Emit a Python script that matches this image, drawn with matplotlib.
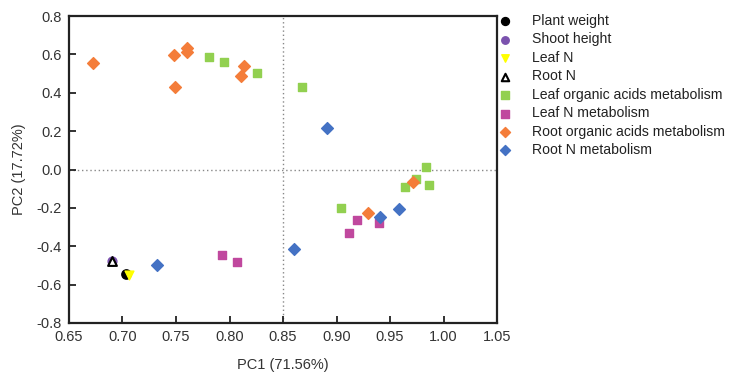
import matplotlib
matplotlib.use("Agg")
import matplotlib.pyplot as plt
from matplotlib.ticker import FormatStrFormatter

plt.rcParams['font.family'] = ['Liberation Sans', 'DejaVu Sans']

# Data (PC1, PC2)
plant_weight_x = [0.7036]
plant_weight_y = [-0.546]
shoot_height_x = [0.690]
shoot_height_y = [-0.475]
leaf_n_x = [0.706]
leaf_n_y = [-0.550]
root_n_x = [0.690]
root_n_y = [-0.475]
leaf_oa_x = [0.781, 0.795, 0.826, 0.868, 0.984, 0.974, 0.964, 0.986, 0.904]
leaf_oa_y = [0.586, 0.562, 0.501, 0.428, 0.015, -0.051, -0.090, -0.079, -0.201]
leaf_nm_x = [0.919, 0.940, 0.912, 0.793, 0.807]
leaf_nm_y = [-0.263, -0.279, -0.331, -0.447, -0.484]
root_oa_x = [0.672, 0.748, 0.749, 0.760, 0.760, 0.8136, 0.811, 0.971, 0.929]
root_oa_y = [0.557, 0.595, 0.428, 0.635, 0.611, 0.539, 0.487, -0.067, -0.228]
root_nm_x = [0.891, 0.958, 0.941, 0.860, 0.732]
root_nm_y = [0.216, -0.206, -0.249, -0.413, -0.498]

x_ticks = [0.65, 0.70, 0.75, 0.80, 0.85, 0.90, 0.95, 1.00, 1.05]
y_ticks = [-0.8, -0.6, -0.4, -0.2, 0.0, 0.2, 0.4, 0.6, 0.8]

fig = plt.figure(figsize=(7.33, 3.74), dpi=100)
ax = fig.add_axes([0.0941, 0.1364, 0.584, 0.8206])

ax.axvline(0.85, color='#888888', linestyle=(0, (1, 2)), linewidth=1.0, zorder=1)
ax.axhline(0.0, color='#888888', linestyle=(0, (1, 2)), linewidth=1.0, zorder=1)

ms = 40
h1 = ax.scatter(leaf_oa_x, leaf_oa_y, marker='s', s=ms, color='#92D050', zorder=3,
                label='Leaf organic acids metabolism')
h2 = ax.scatter(leaf_nm_x, leaf_nm_y, marker='s', s=ms, color='#C0489E', zorder=3,
                label='Leaf N metabolism')
h3 = ax.scatter(root_oa_x, root_oa_y, marker='D', s=ms * 0.9, color='#F47D3A', zorder=3,
                label='Root organic acids metabolism')
h4 = ax.scatter(root_nm_x, root_nm_y, marker='D', s=ms * 0.9, color='#4472C4', zorder=3,
                label='Root N metabolism')
p1 = ax.scatter(plant_weight_x, plant_weight_y, marker='o', s=45, color='black', zorder=4,
                label='Plant weight')
p2 = ax.scatter(shoot_height_x, shoot_height_y, marker='o', s=40, color='#7B52AE', zorder=4,
                label='Shoot height')
p3 = ax.scatter(leaf_n_x, leaf_n_y, marker='v', s=40, color='#FFFF00', zorder=5,
                label='Leaf N')
p4 = ax.scatter(root_n_x, root_n_y, marker='^', s=40, facecolor='white', edgecolor='black',
                linewidth=1.5, zorder=6, label='Root N')

ax.set_xlim(0.65, 1.05)
ax.set_ylim(-0.8, 0.8)
ax.set_xticks(x_ticks)
ax.set_yticks(y_ticks)
ax.xaxis.set_major_formatter(FormatStrFormatter('%.2f'))
ax.yaxis.set_major_formatter(FormatStrFormatter('%.1f'))
ax.tick_params(direction='in', length=5, width=1.3, labelsize=10.5, color='#222222',
               labelcolor='#333333', pad=5)
for sp in ax.spines.values():
    sp.set_linewidth(1.6)
    sp.set_color('#222222')

ax.set_xlabel('PC1 (71.56%)', fontsize=10.5, color='#333333', labelpad=10)
ax.set_ylabel('PC2 (17.72%)', fontsize=10.5, color='#333333', labelpad=8)

handles = [p1, p2, p3, p4, h1, h2, h3, h4]
labels = [h.get_label() for h in handles]
leg = fig.legend(handles, labels, loc='upper left', bbox_to_anchor=(0.652, 0.997),
                 frameon=False, fontsize=10.1, handletextpad=0.95, labelspacing=0.32,
                 markerscale=0.85, scatterpoints=1)
for t in leg.get_texts():
    t.set_color('#222222')

fig.savefig('out.png', dpi=100)
